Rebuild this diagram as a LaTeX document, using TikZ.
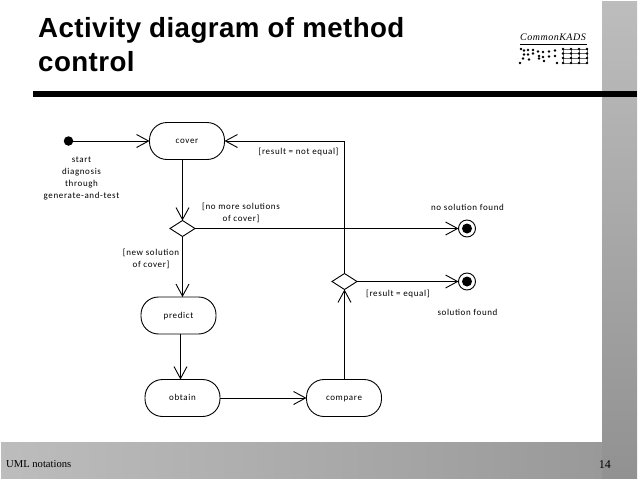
\documentclass[tikz,border=0pt]{standalone}
\usepackage{fontspec}
\setmainfont{Liberation Serif}
\newfontfamily\titlefont[LetterSpace=1.5]{Liberation Sans}
\newfontfamily\labelfont[LetterSpace=7]{Carlito}
\newfontfamily\logofont[LetterSpace=5]{Liberation Serif}
\usepackage{xcolor}
\usetikzlibrary{arrows.meta}
\usetikzlibrary{shapes.geometric}
\tikzstyle{arrow} = [line width=0.9pt,-{Straight Barb[length=12pt,width=13pt,line width=0.9pt]}]
\tikzstyle{activity} = [draw,line width=0.9pt,rounded corners=17.5pt,minimum width=75pt,minimum height=37pt,inner sep=0pt,outer sep=0pt,text height=6pt,text depth=0.5pt,font=\labelfont\fontsize{9}{14}\selectfont]
\tikzstyle{choice} = [draw,line width=0.9pt,diamond,aspect=1.6,minimum width=25pt,minimum height=16pt,inner sep=0pt,outer sep=0pt]
\tikzstyle{endring} = [draw,line width=0.9pt,circle,minimum size=17pt,inner sep=0pt,outer sep=0pt]
\tikzstyle{enddot} = [fill=black,circle,minimum size=10pt,inner sep=0pt]
\tikzstyle{guard} = [align=center,inner sep=0pt,font=\labelfont\fontsize{9}{12}\selectfont]
\tikzstyle{logodot} = [fill=black,circle,minimum size=2.6pt,inner sep=0pt]

\begin{document}
\begin{tikzpicture}[x=1pt,y=-1pt]
    \useasboundingbox (0,0) rectangle (638,479);

    % frame
    \shade[left color=black!26,right color=black!40] (1,442) rectangle (602,478);
    \shade[top color=black!26,bottom color=black!43] (602,1) rectangle (637,478);

    % title
    \node[anchor=base west,align=left,inner sep=0pt,font=\titlefont\bfseries\fontsize{27.7}{34}\selectfont] (title) at (38,71) {Activity diagram of method\\control};
    \fill (33,91) rectangle (637,97);

    % logo
    \node[anchor=base,inner sep=0pt,font=\logofont\itshape\fontsize{10}{11}\selectfont] (logo) at (553,41) {CommonKADS};
    \fill (520,43.5) rectangle (587,45);
    \foreach \y in {49,53.5,58,63}
        \draw[line width=0.3pt,black!60] (563,\y) -- (587,\y);
    \foreach \x in {563,571,579,587}
        \draw[line width=0.3pt,black!60] (\x,49) -- (\x,63);
    \foreach \x in {563,571,579,587}
        \foreach \y in {49,53.5,58,63}
            \node[logodot] at (\x,\y) {};
    \foreach \x/\y in {521/49,524/50.5,528/50,533/50,538/51.5,543/52,549/51.5,555/50.5,524/54.5,528/54.5,533/53.5,539/56,543/57,549/56.5,555/56,523/58.5,529/59.5,539/58.5,544/61,520/63,557/63}
        \node[logodot] at (\x,\y) {};

    % activities
    \node[activity] (cover) at (187,141) {cover};
    \node[activity] (predict) at (178.5,315.5) {predict};
    \node[activity] (obtain) at (182.5,398) {obtain};
    \node[activity] (compare) at (344,398) {compare};
    \node[choice] (newsol) at (182.5,228.5) {};
    \node[choice] (result) at (344.5,281.5) {};

    % start and end points
    \node[fill=black,circle,minimum size=9.5pt,inner sep=0pt,outer sep=0pt] (start) at (68.5,141) {};
    \node[endring] (nosol) at (467,228.5) {};
    \node[enddot] (nosoldot) at (467,228.5) {};
    \node[endring] (sol) at (467,281.5) {};
    \node[enddot] (soldot) at (467,281.5) {};

    % flows
    \draw[arrow] (start) -- (cover);
    \draw[arrow] (cover.south -| newsol) -- (newsol);
    \draw[arrow] (newsol) -- (newsol |- predict.north);
    \draw[arrow] (predict.south -| 180.5,0) -- (180.5,0 |- obtain.north);
    \draw[arrow] (obtain) -- (compare);
    \draw[arrow] (compare.north -| result) -- (result);
    \draw[arrow] (result.north) |- (cover.east);
    \draw[arrow] (newsol) -- (nosol);
    \draw[arrow] (result) -- (sol);

    % labels
    \node[guard] (startlabel) at (81.5,178) {start\\diagnosis\\through\\generate-and-test};
    \node[guard,anchor=west] (notequal) at (258.5,151.5) {[result = not equal]};
    \node[guard] (nomore) at (241,213) {[no more solutions\\of cover]};
    \node[guard] (newsolution) at (151,259) {[new solution\\of cover]};
    \node[guard,anchor=west] (equal) at (366,294) {[result = equal]};
    \node[guard] (nofound) at (467.5,207) {no solution found};
    \node[guard] (found) at (467.5,312) {solution found};

    % footer
    \node[anchor=base west,inner sep=0pt,font=\fontsize{10.6}{13}\selectfont] (footer) at (6,467) {UML notations};
    \node[anchor=base east,inner sep=0pt,font=\fontsize{12}{14}\selectfont] (page) at (611,468) {14};
\end{tikzpicture}
\end{document}
